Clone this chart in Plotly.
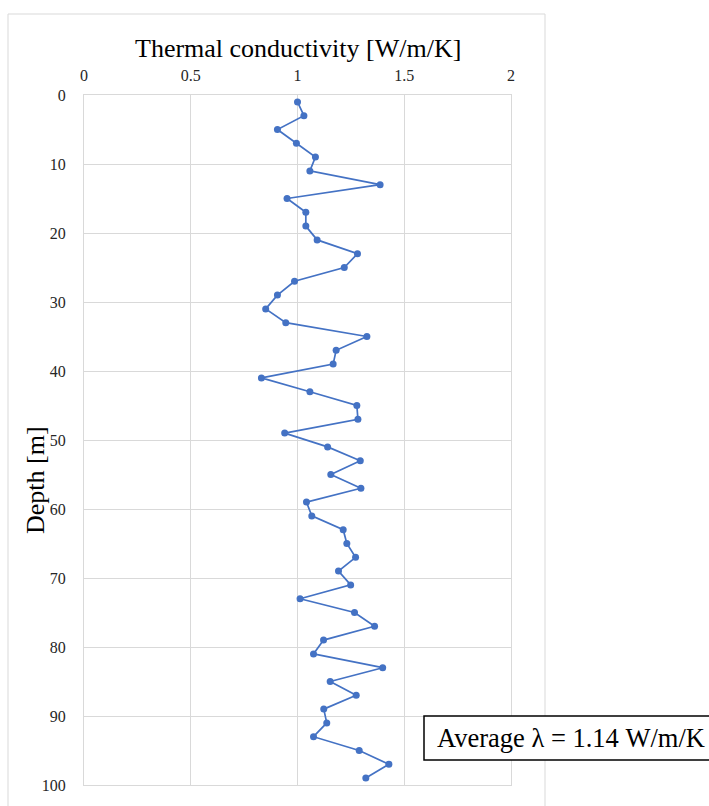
import plotly.graph_objects as go

depth = [1, 3, 5, 7, 9, 11, 13, 15, 17, 19, 21, 23, 25, 27, 29, 31, 33, 35, 37, 39,
         41, 43, 45, 47, 49, 51, 53, 55, 57, 59, 61, 63, 65, 67, 69, 71, 73, 75, 77, 79,
         81, 83, 85, 87, 89, 91, 93, 95, 97, 99]
conductivity = [1.00, 1.03, 0.906, 0.995, 1.084, 1.058, 1.387, 0.951, 1.039, 1.039,
                1.092, 1.281, 1.219, 0.986, 0.906, 0.851, 0.945, 1.325, 1.181, 1.167,
                0.831, 1.058, 1.278, 1.283, 0.940, 1.141, 1.294, 1.156, 1.297, 1.042,
                1.067, 1.214, 1.231, 1.272, 1.192, 1.249, 1.012, 1.267, 1.361, 1.122,
                1.075, 1.399, 1.153, 1.275, 1.123, 1.137, 1.075, 1.289, 1.428, 1.320]
x_ticks = [0, 0.5, 1, 1.5, 2]
x_tick_text = ["0", "0.5", "1", "1.5", "2"]
y_ticks = [0, 10, 20, 30, 40, 50, 60, 70, 80, 90, 100]
x_title = "Thermal conductivity [W/m/K]"
y_title = "Depth [m]"
avg_text = "Average λ = 1.14 W/m/K"

FONT = "Liberation Serif, Times New Roman, serif"
GRID = "#d9d9d9"
BLUE = "#4472C4"
TICK = "#262626"

# plot-area pixel geometry helpers (figure 709x806, margins below)
L, R, T, B = 84, 198, 95, 21
PW, PH = 709 - L - R, 806 - T - B


def px(xpix):
    return (xpix - L) / PW


def py(ypix):
    return (806 - B - ypix) / PH


fig = go.Figure()
fig.add_trace(go.Scatter(
    x=conductivity, y=depth, mode="lines+markers",
    line=dict(color=BLUE, width=1.7),
    marker=dict(color=BLUE, size=7),
    showlegend=False, hoverinfo="skip",
))

fig.update_layout(
    width=709, height=806,
    margin=dict(l=L, r=R, t=T, b=B),
    paper_bgcolor="white", plot_bgcolor="white",
    font=dict(family=FONT, color=TICK),
    xaxis=dict(
        side="top", range=[0, 2], tickvals=x_ticks, ticktext=x_tick_text,
        showgrid=True, gridcolor=GRID, gridwidth=1,
        showline=True, linecolor=GRID, linewidth=1, mirror=True,
        zeroline=False, ticks="", ticklabelstandoff=7,
        tickfont=dict(family=FONT, size=16, color=TICK),
    ),
    yaxis=dict(
        range=[100, 0], tickvals=y_ticks,
        showgrid=True, gridcolor=GRID, gridwidth=1,
        showline=True, linecolor=GRID, linewidth=1, mirror=True,
        zeroline=False, ticks="", ticklabelstandoff=14,
        tickfont=dict(family=FONT, size=16, color=TICK),
    ),
    shapes=[
        dict(type="rect", xref="paper", yref="paper",
             x0=px(8), x1=px(545), y0=py(830), y1=py(14),
             line=dict(color=GRID, width=1), fillcolor="rgba(0,0,0,0)", layer="below"),
        dict(type="rect", xref="paper", yref="paper",
             x0=px(424), x1=px(730), y0=py(760), y1=py(716),
             line=dict(color="#000000", width=1.5), fillcolor="white", layer="above"),
    ],
    annotations=[
        dict(text=x_title, xref="paper", yref="paper",
             x=0.5, y=py(48), xanchor="center", yanchor="middle",
             showarrow=False, font=dict(family=FONT, size=26, color="#000000")),
        dict(text=y_title, xref="paper", yref="paper", textangle=-90,
             x=px(35), y=py(480), xanchor="center", yanchor="middle",
             showarrow=False, font=dict(family=FONT, size=26, color="#000000")),
        dict(text=avg_text, xref="paper", yref="paper",
             x=px(436), y=py(738), xanchor="left", yanchor="middle",
             showarrow=False, align="left", borderpad=0,
             font=dict(family=FONT, size=26.5, color="#000000")),
    ],
)

fig.write_html("out.html")
